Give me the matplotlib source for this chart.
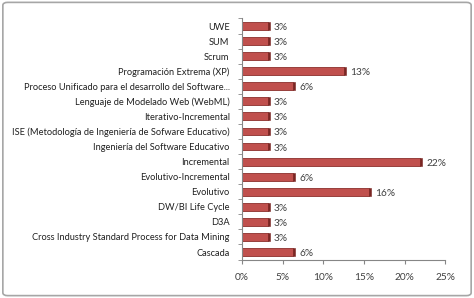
import matplotlib.pyplot as plt
from matplotlib.patches import FancyBboxPatch
from matplotlib.ticker import FuncFormatter

# categories from bottom to top
metodologias = [
    "Cascada",
    "Cross Industry Standard Process for Data Mining",
    "D3A",
    "DW/BI Life Cycle",
    "Evolutivo",
    "Evolutivo-Incremental",
    "Incremental",
    "Ingeniería del Software Educativo",
    "ISE (Metodología de Ingeniería de Sofware Educativo)",
    "Iterativo-Incremental",
    "Lenguaje de Modelado Web (WebML)",
    "Proceso Unificado para el desarrollo del Software...",
    "Programación Extrema (XP)",
    "Scrum",
    "SUM",
    "UWE",
]
porcentaje = [6.25, 3.125, 3.125, 3.125, 15.625, 6.25, 21.875, 3.125,
              3.125, 3.125, 3.125, 6.25, 12.5, 3.125, 3.125, 3.125]
etiquetas = ["6%", "3%", "3%", "3%", "16%", "6%", "22%", "3%",
             "3%", "3%", "3%", "6%", "13%", "3%", "3%", "3%"]
xticks = [0, 5, 10, 15, 20, 25]

plt.rcParams['font.family'] = ['Lato', 'DejaVu Sans']

fig = plt.figure(figsize=(4.74, 2.98), dpi=100)
fig.patches.append(FancyBboxPatch((0.006, 0.008), 0.988, 0.984,
                                  boxstyle="round,pad=0,rounding_size=0.01",
                                  transform=fig.transFigure, fc="white",
                                  ec="#a6a6a6", lw=1.2, zorder=-5))
ax = fig.add_axes([0.511, 0.129, 0.428, 0.809])
ax.patch.set_alpha(0)

pos = list(range(len(metodologias)))
ax.barh(pos, porcentaje, height=0.52, color="#c0504d", edgecolor="#8c2f2c", lw=0.6)
# dark end face for the 3D look
ax.barh(pos, [0.25] * len(pos), left=porcentaje, height=0.52,
        color="#7a2623", edgecolor="#7a2623", lw=0.4)
for y, v, t in zip(pos, porcentaje, etiquetas):
    ax.text(v + 0.8, y - 0.1, t, va="center", ha="left", fontsize=7.3, color="#404040")

ax.set_ylim(-0.5, len(pos) - 0.5)
ax.set_xlim(0, 25)
ax.set_yticks(pos)
ax.set_yticklabels(metodologias, fontsize=6.7, color="#202020")
ax.set_yticks([p + 0.5 for p in pos[:-1]] + [-0.5, len(pos) - 0.5], minor=True)
ax.set_xticks(xticks)
ax.xaxis.set_major_formatter(FuncFormatter(lambda v, p: f"{v:.0f}%"))
for s in ["top", "right"]:
    ax.spines[s].set_visible(False)
ax.spines["left"].set_color("#868686")
ax.spines["bottom"].set_color("#868686")
ax.tick_params(axis="y", which="major", length=0, pad=9)
ax.tick_params(axis="y", which="minor", length=3, color="#868686")
ax.tick_params(axis="x", which="major", length=3, color="#868686", pad=7,
               labelsize=7.3, colors="#404040")

fig.savefig("out.png", dpi=100)
